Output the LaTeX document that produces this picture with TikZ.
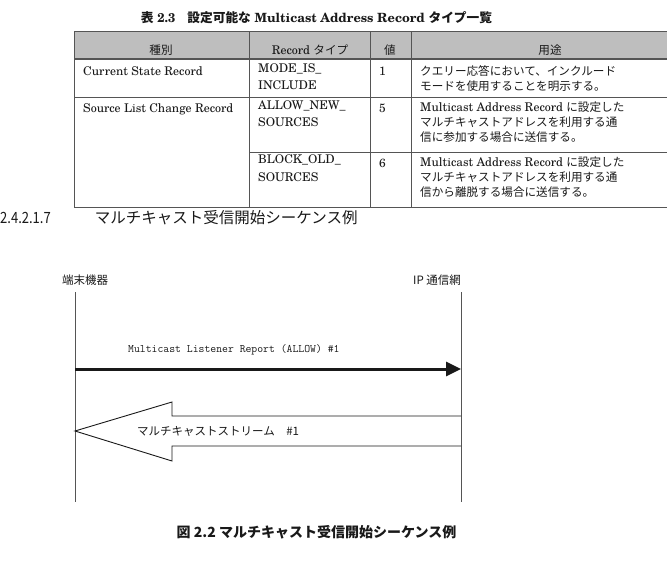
\documentclass[tikz,border=0pt]{standalone}
\usepackage{fontspec}
\usepackage{graphicx}
\usepackage{tikz}
\usetikzlibrary{arrows.meta,positioning}
\setmainfont{texgyreschola}[Extension=.otf,UprightFont=*-regular,BoldFont=*-bold,ItalicFont=*-italic,BoldItalicFont=*-bolditalic]
\newfontfamily\jp{Noto Sans CJK JP}
\definecolor{rule}{RGB}{85,85,85}
\definecolor{headgray}{RGB}{190,190,190}
\definecolor{ink}{RGB}{25,25,25}
\newcommand{\ja}[1]{{\jp\fontsize{11.6}{15}\selectfont #1}}
\tikzset{
  tabline/.style={draw=rule,line width=0.9pt},
  cellA/.style={anchor=north west,inner sep=0pt,align=left,text=ink,font=\fontsize{12}{17.5}\selectfont,execute at begin node=\strut},
  cellB/.style={cellA,font=\fontsize{12}{15}\selectfont},
  headtxt/.style={anchor=base,inner sep=0pt,text=ink,font=\fontsize{12}{15}\selectfont},
  actor/.style={anchor=base,inner sep=0pt,text=ink,font=\jp\fontsize{11.5}{14}\selectfont},
  life/.style={draw=rule,line width=0.9pt},
  msg/.style={-{Triangle[length=15pt,width=14pt]},line width=3pt,ink},
  msgtxt/.style={anchor=base west,inner sep=0pt,text=ink,font=\ttfamily\fontsize{11.4}{14}\selectfont},
  stream/.style={draw=ink,line width=0.9pt,line join=miter},
}

\begin{document}
\begin{tikzpicture}[x=1pt,y=-1pt]
  \useasboundingbox (0,0) rectangle (667,584);
  \fill[white] (0,0) rectangle (667,584);
  \clip (0,0) rectangle (667,584);

  \node[anchor=base,inner sep=0pt,text=ink,font=\bfseries\fontsize{12.7}{15}\selectfont] (tabcap) at (316.5,22)
    {{\jp 表} 2.3\hspace{12pt}{\jp 設定可能な} Multicast Address Record {\jp タイプ一覧}};

  \fill[headgray] (74,31) rectangle (689,59);
  \draw[tabline] (74,31) rectangle (689,207);
  \draw[tabline,line width=1.5pt] (74,59) -- (689,59);
  \draw[tabline] (74,97) -- (689,97);
  \draw[tabline] (249,152) -- (689,152);
  \foreach \cx in {249,370,411}
    \draw[tabline] (\cx,31) -- (\cx,207);

  \node[headtxt] (h-kind) at (161,54.5) {\ja{種別}};
  \node[headtxt] (h-type) at (310,54.5) {Record \ja{タイプ}};
  \node[headtxt] (h-val)  at (390,54.5) {\ja{値}};
  \node[headtxt] (h-use)  at (550,54.5) {\ja{用途}};

  \node[cellA] (kind1) at (83,63.25)  {Current State Record};
  \node[cellA] (kind2) at (83,100.25) {Source List Change Record};
  \node[cellA] (type1) at (258,63.25)  {MODE\_IS\_\\INCLUDE};
  \node[cellA] (type2) at (258,100.25) {ALLOW\_NEW\_\\SOURCES};
  \node[cellA] (type3) at (258,154.75) {BLOCK\_OLD\_\\SOURCES};
  \node[cellA] (val1) at (379,63.25)  {1};
  \node[cellA] (val2) at (379,100.25) {5};
  \node[cellA] (val3) at (379,154.75) {6};
  \node[cellB] (use1) at (420,65)
    {\ja{クエリー応答において、インクルード}\\\ja{モードを使用することを明示する。}};
  \node[cellB] (use2) at (420,102)
    {Multicast Address Record \ja{に設定した}\\\ja{マルチキャストアドレスを利用する通}\\\ja{信に参加する場合に送信する。}};
  \node[cellB] (use3) at (420,156.5)
    {Multicast Address Record \ja{に設定した}\\\ja{マルチキャストアドレスを利用する通}\\\ja{信から離脱する場合に送信する。}};

  \node[anchor=base west,inner sep=0pt,text=ink,font=\jp\fontsize{15.5}{18}\selectfont] (sechead) at (0,223.5)
    {\scalebox{0.84}[1]{2.4.2.1.7}\hspace{44pt}マルチキャスト受信開始シーケンス例};

  \node[actor] (term)  at (85,284)  {端末機器};
  \node[actor] (ipnet) at (437,284) {IP 通信網};
  \coordinate (term-top) at (75,292);
  \coordinate (term-bot) at (75,502);
  \coordinate (net-top)  at (461,292);
  \coordinate (net-bot)  at (461,502);
  \draw[life] (term-top) -- (term-bot);
  \draw[life] (net-top) -- (net-bot);

  \coordinate (rep-from) at (75,369);
  \coordinate (rep-to)   at (461,369);
  \draw[msg] (rep-from) -- (rep-to);
  \node[msgtxt] (rep-lbl) at (128,352) {Multicast Listener Report (ALLOW) \#1};

  \coordinate (str-tip) at (75,431);
  \draw[stream] (461,416) -- (172,416) -- (172,402) -- (str-tip) -- (172,461) -- (172,446) -- (461,446);
  \node[anchor=base west,inner sep=0pt,text=ink,font=\jp\fontsize{11.5}{14}\selectfont] (str-lbl) at (137,435)
    {マルチキャストストリーム　\#1};

  \node[anchor=base,inner sep=0pt,text=ink,font=\jp\bfseries\fontsize{14}{16}\selectfont] (figcap) at (316.5,537)
    {図 2.2 マルチキャスト受信開始シーケンス例};
\end{tikzpicture}
\end{document}
